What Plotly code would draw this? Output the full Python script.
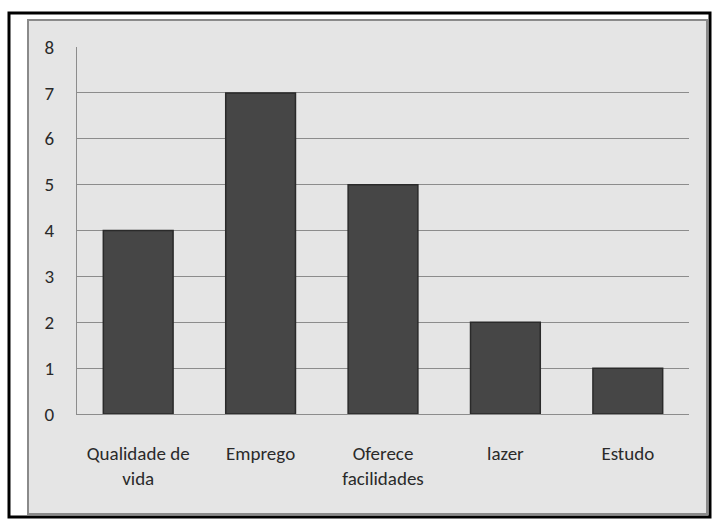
import plotly.graph_objects as go

categories = ["Qualidade de<br>vida", "Emprego", "Oferece<br>facilidades", "lazer", "Estudo"]
values = [4, 7, 5, 2, 1]
y_ticks = [0, 1, 2, 3, 4, 5, 6, 7, 8]

W, H = 713, 519
L, R, T, B = 77, 24, 47, 105
pw, ph = W - L - R, H - T - B

def px(x):
    return (x - L) / pw

def py(y):
    return 1 - (y - T) / ph

FONT = "Carlito, Liberation Sans Narrow, Open Sans, sans-serif"

fig = go.Figure()
fig.add_trace(go.Bar(
    x=categories, y=values,
    marker=dict(color="#464646", line=dict(color="#2a2a2a", width=1.5)),
    width=0.57,
))

shapes = [
    dict(type="rect", xref="paper", yref="paper", x0=px(9), x1=px(710), y0=py(13), y1=py(517),
         line=dict(color="black", width=3), fillcolor="white", layer="below"),
    dict(type="rect", xref="paper", yref="paper", x0=px(28), x1=px(707), y0=py(20), y1=py(514),
         line=dict(color="#8a8a8a", width=2), fillcolor="#e5e5e5", layer="below"),
]

fig.update_layout(
    width=W, height=H,
    margin=dict(l=L, r=R, t=T, b=B),
    paper_bgcolor="white",
    plot_bgcolor="#e5e5e5",
    shapes=shapes,
    showlegend=False,
    font=dict(family=FONT, size=19, color="#2a2a2a"),
    bargap=0.43,
)
fig.update_yaxes(
    range=[0, 8], tickvals=y_ticks, showgrid=True, gridcolor="#8c8c8c", gridwidth=1,
    showline=True, linecolor="#8c8c8c", linewidth=1, zeroline=False,
    ticks="", ticklabelstandoff=18,
)
fig.update_xaxes(
    showline=True, linecolor="#8c8c8c", linewidth=1, ticks="",
    ticklabelstandoff=22, showgrid=False,
)
fig.write_html(
    "out.html",
    config={"displayModeBar": False},
    post_script="document.body.style.margin='0';document.body.style.overflow='hidden';",
)
